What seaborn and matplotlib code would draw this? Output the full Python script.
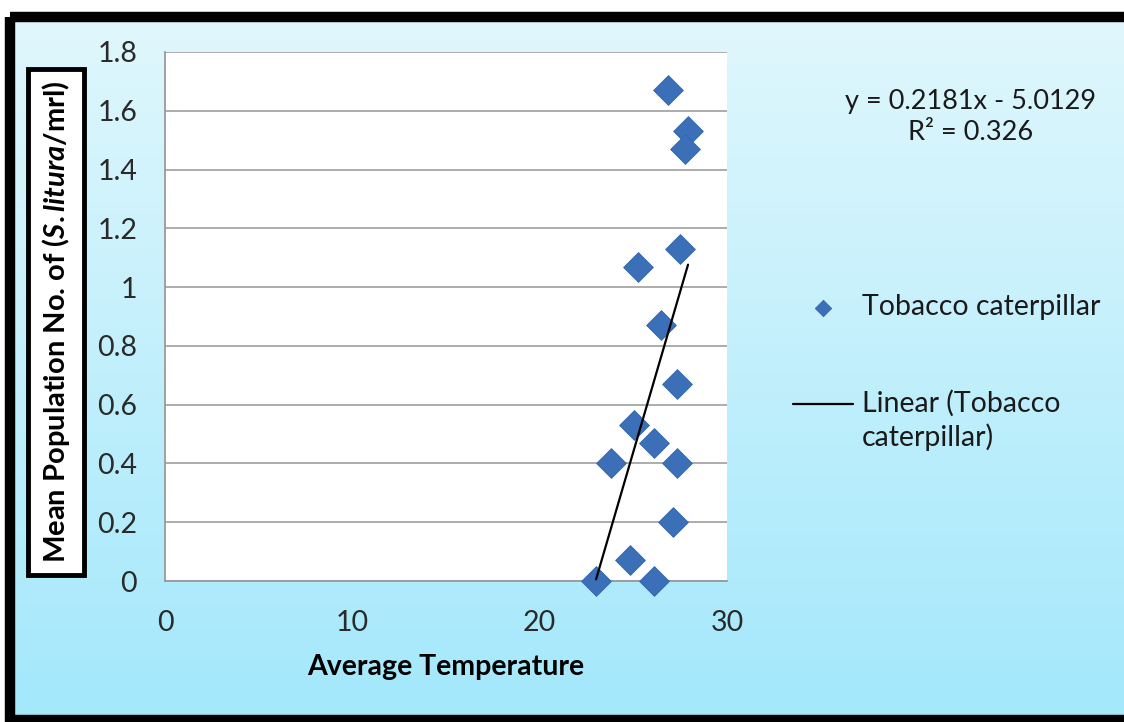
import numpy as np
import pandas as pd
import matplotlib
matplotlib.use("Agg")
import matplotlib.pyplot as plt
from matplotlib.patches import Rectangle
import seaborn as sns

# ---- data ----
temperature = [26.86, 27.92, 27.76, 27.50, 25.25, 26.48, 27.34, 25.04, 26.11,
               23.81, 27.34, 27.12, 24.83, 23.01, 26.10]
population = [1.67, 1.53, 1.47, 1.13, 1.07, 0.87, 0.67, 0.53, 0.47,
              0.40, 0.40, 0.20, 0.07, 0.00, 0.00]
trend_slope = 0.2181
trend_intercept = -5.0129
r_squared = 0.326
series_name = "Tobacco caterpillar"
trend_name = "Linear (Tobacco\ncaterpillar)"
x_ticks = [0, 10, 20, 30]
y_ticks = [0, 0.2, 0.4, 0.6, 0.8, 1.0, 1.2, 1.4, 1.6, 1.8]

sns.set_theme(style="white")
plt.rcParams['font.family'] = ['Lato', 'DejaVu Sans']
plt.rcParams['mathtext.fontset'] = 'custom'
plt.rcParams['mathtext.it'] = 'Lato:italic:bold'
plt.rcParams['mathtext.rm'] = 'Lato:bold'

FS = 20.5
W, H = 1124, 722
fig = plt.figure(figsize=(W / 100, H / 100), dpi=100)
fig.patch.set_facecolor("white")

# ---- background gradient panel with thick black frame ----
bg = fig.add_axes([0, 0, 1, 1], zorder=-10)
bg.set_xlim(0, W)
bg.set_ylim(H, 0)
bg.axis("off")
top_c = np.array([0xe0, 0xf7, 0xfd]) / 255
bot_c = np.array([0xa3, 0xe8, 0xfb]) / 255
t = np.linspace(0, 1, 256)[:, None]
grad = (top_c[None, :] * (1 - t) + bot_c[None, :] * t)[:, None, :]
bg.imshow(grad, extent=[10, W + 20, H - 2, 17], aspect="auto", zorder=0)
bg.add_patch(Rectangle((10, 17), W + 30, H - 19, fill=False, edgecolor="black",
                       linewidth=7.5, zorder=2))

# ---- main axes ----
L, R, T, B = 165, 727, 52, 581
ax = fig.add_axes([L / W, 1 - B / H, (R - L) / W, (B - T) / H])
ax.set_facecolor("white")

df = pd.DataFrame({"Average Temperature": temperature, "Population": population})
sns.scatterplot(data=df, x="Average Temperature", y="Population", ax=ax,
                marker="D", s=230, color="#3b70b8", edgecolor="#3366a8",
                linewidth=0.6, label=series_name, zorder=4, clip_on=False)

xfit = np.array([min(temperature), max(temperature)])
yfit = trend_slope * xfit + trend_intercept
sns.lineplot(x=xfit, y=yfit, ax=ax, color="black", linewidth=1.6,
             label=trend_name, zorder=5)

ax.set_xlim(0, 30)
ax.set_ylim(0, 1.8)
ax.set_xticks(x_ticks)
ax.set_yticks(y_ticks)
ax.set_xticklabels([f"{v:g}" for v in x_ticks])
ax.set_yticklabels([f"{v:g}" for v in y_ticks])
ax.grid(axis="y", color="#a6a6a6", linewidth=1.3)
ax.grid(axis="x", visible=False)
ax.set_axisbelow(True)
for s in ["top", "right"]:
    ax.spines[s].set_visible(False)
for s in ["left", "bottom"]:
    ax.spines[s].set_color("#9a9a9a")
    ax.spines[s].set_linewidth(1.3)
ax.tick_params(axis="both", which="major", direction="out", length=8, width=1.3,
               color="#9a9a9a", labelsize=FS, labelcolor="#2a2a2a")
ax.tick_params(axis="y", pad=12)
ax.tick_params(axis="x", pad=13)

ax.set_xlabel("Average Temperature", fontsize=FS, fontweight="bold",
              color="black", labelpad=13)
ax.set_ylabel(r"Mean Population No. of ($\mathit{S.litura}$/mrl)", fontsize=21,
              fontweight="bold", color="black",
              bbox=dict(boxstyle="square,pad=0.42", facecolor="white",
                        edgecolor="black", linewidth=3.5))
ax.yaxis.set_label_coords((56 - L) / (R - L), 1 - (322 - T) / (B - T))
ax.yaxis.label.set_va("center")

leg = ax.legend(loc="upper left",
                bbox_to_anchor=((782 - L) / (R - L), 1 - (283 - T) / (B - T)),
                frameon=False, fontsize=FS, handlelength=2.1, handletextpad=0.3,
                labelspacing=2.45, markerscale=0.55, borderaxespad=0)
for txt in leg.get_texts():
    txt.set_color("#1a1a1a")
    txt.set_linespacing(1.3)
# put the trend handle next to the first line of its two-line label
hl = leg.legend_handles[1]
hl.set_ydata(np.asarray(hl.get_ydata()) + 0.62 * FS)

fig.text(971 / W, 1 - 117 / H,
         f"y = {trend_slope}x - {abs(trend_intercept)}\nR² = {r_squared}",
         ha="center", va="center", fontsize=19.5, color="#1a1a1a",
         multialignment="center", linespacing=1.25)

fig.savefig("out.png", dpi=100)
